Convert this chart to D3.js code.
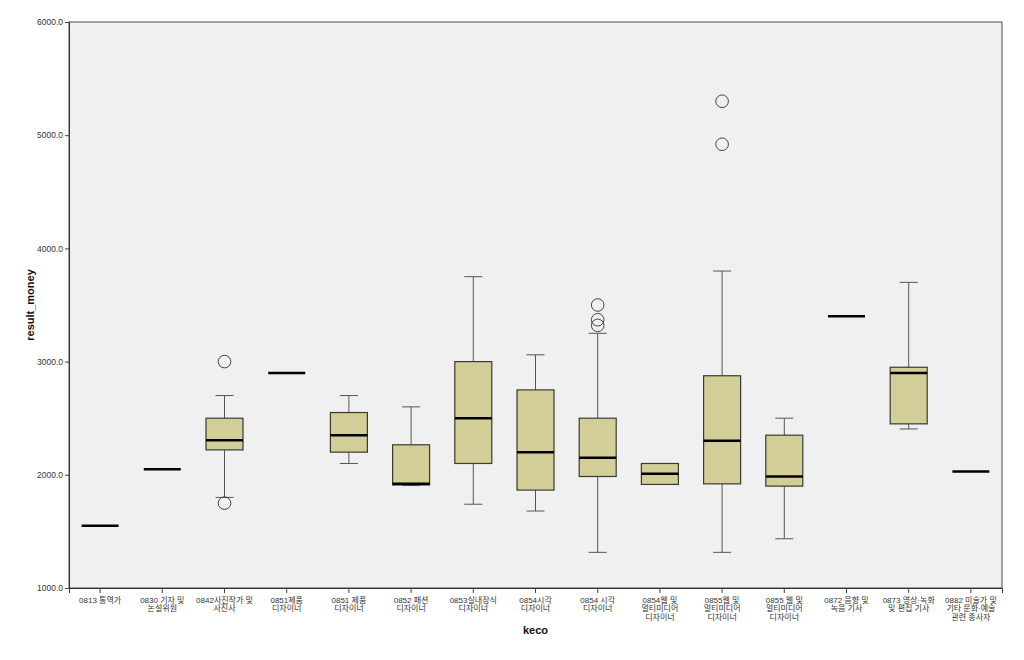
<!DOCTYPE html>
<html>
<head>
<meta charset="utf-8">
<script src="https://cdnjs.cloudflare.com/ajax/libs/d3/7.8.5/d3.min.js"></script>
<style>
  body { margin: 0; background: #fff; }
  svg text { font-family: "Liberation Sans", Arial, "Noto Sans CJK KR", sans-serif; }
</style>
</head>
<body>
<div id="chart"></div>
<script>
// categories (label lines)
var categories = [
  ["0813 통역가"],
  ["0830 기자 및", "논설위원"],
  ["0842사진작가 및", "사진사"],
  ["0851제품", "디자이너"],
  ["0851 제품", "디자이너"],
  ["0852 패션", "디자이너"],
  ["0853실내장식", "디자이너"],
  ["0854시각", "디자이너"],
  ["0854 시각", "디자이너"],
  ["0854웹 및", "멀티미디어", "디자이너"],
  ["0855웹 및", "멀티미디어", "디자이너"],
  ["0855 웹 및", "멀티미디어", "디자이너"],
  ["0872 음향 및", "녹음 기사"],
  ["0873 영상·녹화", "및 편집 기사"],
  ["0882 미술가 및", "기타 문화·예술", "관련 종사자"]
];

// box stats per category
var whiskerLow  = [1550, 2050, 1800, 2900, 2100, 1905, 1740, 1680, 1315, 1915, 1315, 1435, 3400, 2405, 2030];
var q1          = [1550, 2050, 2220, 2900, 2200, 1910, 2100, 1865, 1985, 1915, 1920, 1900, 3400, 2450, 2030];
var median      = [1550, 2050, 2305, 2900, 2350, 1920, 2500, 2200, 2150, 2010, 2300, 1985, 3400, 2900, 2030];
var q3          = [1550, 2050, 2500, 2900, 2550, 2265, 3000, 2750, 2500, 2100, 2875, 2350, 3400, 2950, 2030];
var whiskerHigh = [1550, 2050, 2700, 2900, 2700, 2600, 3750, 3060, 3250, 2100, 3800, 2500, 3400, 3700, 2030];
var outliers    = [[], [], [3000, 1750], [], [], [], [], [], [3500, 3370, 3320], [], [5300, 4920], [], [], [], []];

var yTicks = [1000, 2000, 3000, 4000, 5000, 6000];

var W = 1024, H = 660;
var margin = {left: 69, right: 22, top: 22, bottom: 72};

var svg = d3.select("#chart").append("svg")
  .attr("width", W).attr("height", H);

var x = d3.scaleBand()
  .domain(d3.range(categories.length))
  .range([margin.left, W - margin.right])
  .paddingInner(0).paddingOuter(0);

var y = d3.scaleLinear()
  .domain([1000, 6000])
  .range([H - margin.bottom, margin.top]);

// plot background
svg.append("rect")
  .attr("x", margin.left).attr("y", margin.top)
  .attr("width", W - margin.right - margin.left)
  .attr("height", H - margin.bottom - margin.top)
  .attr("fill", "#f0f0f0")
  .attr("stroke", "#4a4a4a").attr("stroke-width", 1);

// y axis
var yAxis = svg.append("g")
  .attr("transform", "translate(" + margin.left + ",0)")
  .call(d3.axisLeft(y).tickValues(yTicks).tickFormat(d3.format(".1f")).tickSize(4).tickPadding(2));
yAxis.select(".domain").attr("stroke", "#333");
yAxis.selectAll(".tick line").attr("stroke", "#444");
yAxis.selectAll("text").attr("font-size", 8.5).attr("fill", "#333");

// x axis
var xAxis = svg.append("g")
  .attr("transform", "translate(0," + (H - margin.bottom) + ")")
  .call(d3.axisBottom(x).tickSize(5).tickFormat(""));
xAxis.select(".domain").attr("stroke", "#333");
xAxis.selectAll(".tick line").attr("stroke", "#444");

xAxis.selectAll(".tick").each(function(d) {
  var t = d3.select(this).append("text")
    .attr("fill", "#333").attr("font-size", 8)
    .attr("text-anchor", "middle")
    .attr("y", 15);
  categories[d].forEach(function(line, i) {
    t.append("tspan").attr("x", 0).attr("dy", i === 0 ? 0 : 8.3).text(line);
  });
});

// axis titles
svg.append("text")
  .attr("transform", "translate(34," + ((margin.top + H - margin.bottom) / 2) + ") rotate(-90)")
  .attr("text-anchor", "middle")
  .attr("font-size", 11).attr("font-weight", "bold").attr("fill", "#111")
  .text("result_money");

svg.append("text")
  .attr("x", (margin.left + W - margin.right) / 2)
  .attr("y", 634)
  .attr("text-anchor", "middle")
  .attr("font-size", 11).attr("font-weight", "bold").attr("fill", "#111")
  .text("keco");

// boxes
var boxW = 37, capW = 18;
var nodes = svg.selectAll(".box")
  .data(d3.range(categories.length))
  .enter()
  .append("g")
  .attr("class", "box")
  .attr("transform", function(i) { return "translate(" + (x(i) + x.bandwidth() / 2) + ",0)"; });

nodes.each(function(i) {
  var g = d3.select(this);
  if (q3[i] === q1[i] && whiskerHigh[i] === whiskerLow[i]) {
    // single value: only median line
    g.append("line")
      .attr("x1", -boxW / 2).attr("x2", boxW / 2)
      .attr("y1", y(median[i])).attr("y2", y(median[i]))
      .attr("stroke", "#000").attr("stroke-width", 2.5);
    return;
  }
  // whiskers
  var wStroke = "#555";
  if (whiskerHigh[i] > q3[i]) {
    g.append("line").attr("x1", 0).attr("x2", 0)
      .attr("y1", y(whiskerHigh[i])).attr("y2", y(q3[i]))
      .attr("stroke", wStroke);
    g.append("line").attr("x1", -capW / 2).attr("x2", capW / 2)
      .attr("y1", y(whiskerHigh[i])).attr("y2", y(whiskerHigh[i]))
      .attr("stroke", wStroke);
  }
  if (whiskerLow[i] < q1[i]) {
    g.append("line").attr("x1", 0).attr("x2", 0)
      .attr("y1", y(q1[i])).attr("y2", y(whiskerLow[i]))
      .attr("stroke", wStroke);
    g.append("line").attr("x1", -capW / 2).attr("x2", capW / 2)
      .attr("y1", y(whiskerLow[i])).attr("y2", y(whiskerLow[i]))
      .attr("stroke", wStroke);
  }
  g.append("rect")
    .attr("x", -boxW / 2).attr("width", boxW)
    .attr("y", y(q3[i])).attr("height", y(q1[i]) - y(q3[i]))
    .attr("fill", "#d3ce98").attr("stroke", "#3a3a30").attr("stroke-width", 1.2);
  g.append("line")
    .attr("x1", -boxW / 2).attr("x2", boxW / 2)
    .attr("y1", y(median[i])).attr("y2", y(median[i]))
    .attr("stroke", "#000").attr("stroke-width", 2.5);
  g.selectAll("circle")
    .data(outliers[i])
    .enter()
    .append("circle")
    .attr("cy", function(v) { return y(v); })
    .attr("r", 6.3)
    .attr("fill", "none").attr("stroke", "#444").attr("stroke-width", 1);
});
</script>
</body>
</html>
